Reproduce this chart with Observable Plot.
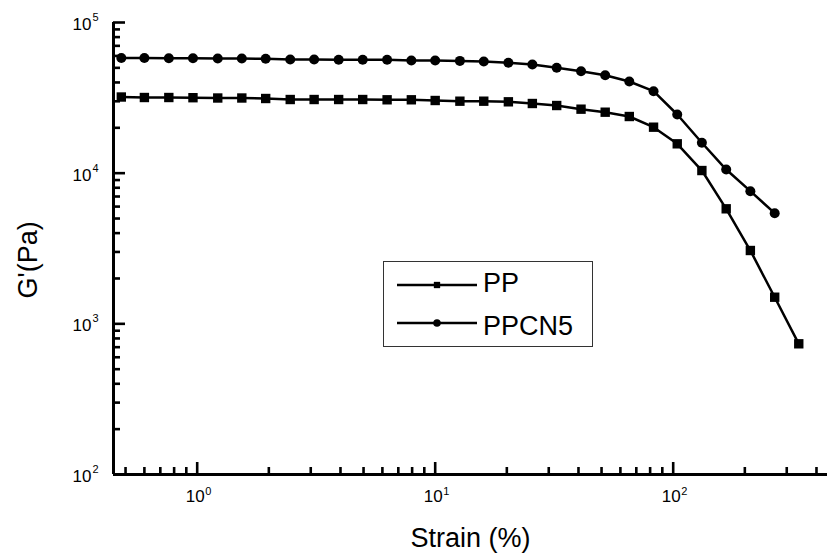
<!DOCTYPE html>
<html><head><meta charset="utf-8">
<script src="https://cdn.jsdelivr.net/npm/d3@7"></script>
<script src="https://cdn.jsdelivr.net/npm/@observablehq/plot@0.6"></script>
<style>
body{margin:0;background:#fff;}
#wrap{position:relative;width:827px;height:556px;font-family:"Liberation Sans",Arial,sans-serif;overflow:hidden;}
#legend{position:absolute;left:383px;top:261px;width:210px;height:86px;border:1px solid #333;box-sizing:border-box;background:#fff;}
</style></head><body><div id="wrap"><div id="legend"></div></div>
<script>
// ---- data ----
const strain = [0.48, 0.60, 0.76, 0.96, 1.22, 1.54, 1.94, 2.46, 3.1, 3.93, 4.96, 6.28, 7.94, 10.0, 12.7, 16.0, 20.3, 25.6, 32.4, 41.0, 51.8, 65.4, 82.7, 104, 132, 167, 211, 267, 337];
const ppG = [32020, 31780, 31780, 31680, 31540, 31540, 31300, 30820, 30820, 30820, 30820, 30690, 30690, 30360, 30040, 30040, 29760, 29000, 28120, 26590, 25390, 23770, 20190, 15660, 10410, 5800, 3067, 1502, 737];
const ppcn5G = [58130, 58130, 57950, 57950, 57690, 57690, 57420, 56800, 56800, 56540, 56540, 56540, 55950, 55950, 55600, 55100, 54010, 52620, 50040, 47500, 44700, 40600, 34990, 24510, 15910, 10570, 7592, 5425];
const seriesNames = ["PP", "PPCN5"];
const seriesSymbols = ["square", "circle"];

const xDomain = [0.445, 445];
const yDomain = [100, 100000];
const xMajor = [1, 10, 100];
const xMajorExp = ["0", "1", "2"];
const xMinor = [0.5, 0.6, 0.7, 0.8, 0.9, 2, 3, 4, 5, 6, 7, 8, 9, 20, 30, 40, 50, 60, 70, 80, 90, 200, 300, 400];
const yMajor = [100, 1000, 10000, 100000];
const yMajorExp = ["2", "3", "4", "5"];
const yMinor = [200, 300, 400, 500, 600, 700, 800, 900, 2000, 3000, 4000, 5000, 6000, 7000, 8000, 9000, 20000, 30000, 40000, 50000, 60000, 70000, 80000, 90000];
const xTitle = "Strain (%)";
const yTitle = "G'(Pa)";

// ---- build table ----
const data = [
  ...ppG.map((g, i) => ({strain: strain[i], g, series: seriesNames[0]})),
  ...ppcn5G.map((g, i) => ({strain: strain[i], g, series: seriesNames[1]}))
];

const W = 827, H = 556, mL = 113, mR = 0, mT = 22, mB = 82;
const fw = W - mL - mR, fh = H - mT - mB;
const font = "'Liberation Sans', Arial, sans-serif";

const chart = Plot.plot({
  width: W, height: H,
  marginLeft: mL, marginRight: mR, marginTop: mT, marginBottom: mB,
  x: {type: "log", domain: xDomain, axis: null},
  y: {type: "log", domain: yDomain, axis: null},
  symbol: {domain: seriesNames, range: seriesSymbols},
  style: {fontFamily: font, background: "white", color: "black", overflow: "visible"},
  marks: [
    // axis lines
    Plot.ruleX([xDomain[0]], {stroke: "black", strokeWidth: 3}),
    Plot.ruleY([yDomain[0]], {stroke: "black", strokeWidth: 3}),
    // inward ticks
    Plot.tickX(xMajor, {x: d => d, insetTop: fh - 12, stroke: "black", strokeWidth: 2.6}),
    Plot.tickX(xMinor, {x: d => d, insetTop: fh - 7, stroke: "black", strokeWidth: 2.6}),
    Plot.tickY(yMajor, {y: d => d, insetRight: fw - 12, stroke: "black", strokeWidth: 2.6}),
    Plot.tickY(yMinor, {y: d => d, insetRight: fw - 7, stroke: "black", strokeWidth: 2.6}),
    // tick labels 10^n
    Plot.text(xMajor, {x: d => d, frameAnchor: "bottom", text: () => "10", dy: 27, dx: -2, fontSize: 17, fill: "black"}),
    Plot.text(xMajor, {x: d => d, frameAnchor: "bottom", text: (d, i) => xMajorExp[i], dy: 20, dx: 8, textAnchor: "start", fontSize: 11, fill: "black"}),
    Plot.text(yMajor, {y: d => d, frameAnchor: "left", text: () => "10", dx: -22, dy: 2, textAnchor: "end", fontSize: 17, fill: "black"}),
    Plot.text(yMajor, {y: d => d, frameAnchor: "left", text: (d, i) => yMajorExp[i], dx: -21, dy: -5, textAnchor: "start", fontSize: 11, fill: "black"}),
    // axis titles
    Plot.text([xTitle], {frameAnchor: "bottom", text: d => d, dy: 72, fontSize: 27, fill: "black"}),
    Plot.text([yTitle], {frameAnchor: "left", text: d => d, dx: -85, dy: 50, rotate: -90, fontSize: 27, fill: "black"}),
    // data
    Plot.line(data, {x: "strain", y: "g", z: "series", stroke: "black", strokeWidth: 2.5}),
    Plot.dot(data.filter(d => d.series === seriesNames[0]), {x: "strain", y: "g", symbol: "series", fill: "black", stroke: "none", r: 5.3}),
    Plot.dot(data.filter(d => d.series === seriesNames[1]), {x: "strain", y: "g", symbol: "series", fill: "black", stroke: "none", r: 5})
  ]
});
const wrap = document.getElementById("wrap");
wrap.insertBefore(chart, wrap.firstChild);

// ---- legend (overlay box) ----
const lg = d3.select("#legend").append("svg").attr("width", 208).attr("height", 84)
  .style("font-family", font);
const rowsY = [23, 61];
const textY = [21, 64];
const symSizes = [40, 45];
seriesNames.forEach((name, i) => {
  lg.append("line").attr("x1", 13).attr("x2", 93).attr("y1", rowsY[i]).attr("y2", rowsY[i])
    .attr("stroke", "black").attr("stroke-width", 2.5);
  lg.append("path").attr("transform", `translate(53,${rowsY[i]})`)
    .attr("d", d3.symbol(seriesSymbols[i] === "square" ? d3.symbolSquare : d3.symbolCircle, symSizes[i])())
    .attr("fill", "black");
  lg.append("text").attr("x", 99).attr("y", textY[i]).attr("dominant-baseline", "central")
    .attr("font-size", 27).attr("fill", "black").text(name);
});
</script>
</body></html>
